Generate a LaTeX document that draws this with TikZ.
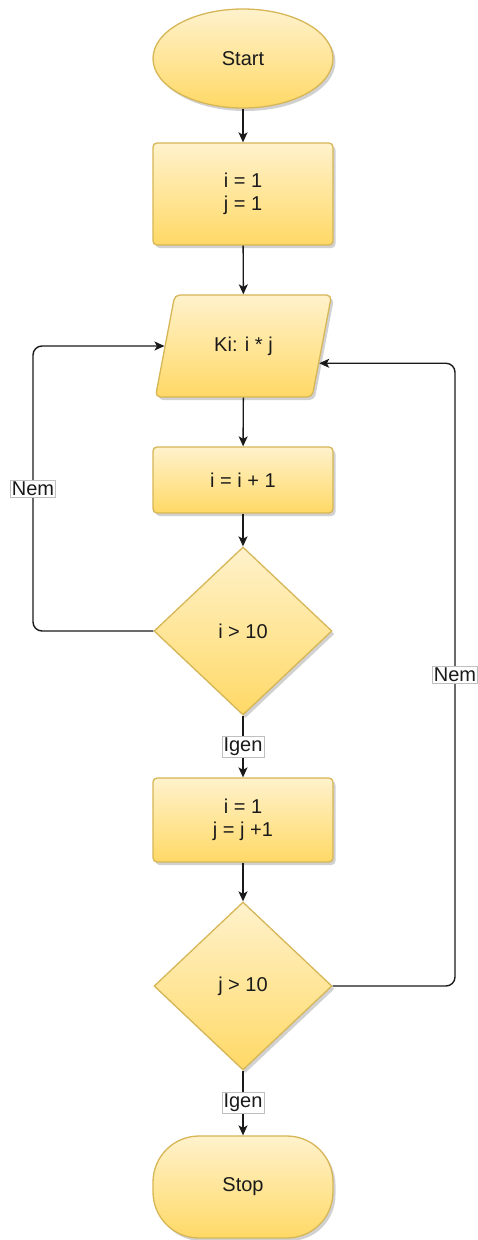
\documentclass[tikz,border=0pt]{standalone}
\usepackage{fontspec}
\setmainfont{Liberation Sans}
\usetikzlibrary{arrows.meta,positioning,calc,shapes.geometric,shadows}
\definecolor{lighty}{HTML}{FFF2CC}
\definecolor{darky}{HTML}{FFD966}
\definecolor{edgey}{HTML}{D6B656}
\definecolor{ink}{HTML}{1A1A1A}

\begin{document}
\begin{tikzpicture}[x=1pt,y=-1pt,>={Stealth[length=10pt,width=9pt,inset=2.5pt]},
  every node/.style={font=\fontsize{20}{23}\selectfont,align=center,text=ink},
  blk/.style={draw=edgey,line width=1.3pt,top color=lighty,bottom color=darky,minimum width=180pt,
    drop shadow={shadow xshift=2.5pt,shadow yshift=-3pt,fill=black!40,opacity=.45}},
  box/.style={blk,rectangle,rounded corners=4pt},
  io/.style={blk,trapezium,trapezium left angle=70,trapezium right angle=110,trapezium stretches=true,
    minimum width=177pt,minimum height=102pt,rounded corners=5pt},
  test/.style={blk,diamond,minimum width=178pt,minimum height=168pt,inner sep=0pt},
  flow/.style={->,draw=ink,line width=1.4pt,rounded corners=9pt},
  lbl/.style={draw=black!25,fill=white,sharp corners,inner sep=1.5pt,line width=.5pt}]
\useasboundingbox (0,0) rectangle (477,1240);
\node[blk,ellipse,minimum height=99pt] (start) at (243,58.5) {Start};
\node[box,minimum height=102pt] (init) at (243,194) {i = 1\\j = 1};
\node[io] (out) at (243.5,346) {Ki: i * j};
\node[box,minimum height=66pt] (inc) at (243,480) {i = i + 1};
\node[test] (cond1) at (243,631) {i > 10};
\node[box,minimum height=84pt] (reset) at (243,820) {i = 1\\j = j +1};
\node[test] (cond2) at (243,986) {j > 10};
\node[box,minimum height=102pt,rounded corners=46pt] (stop) at (243,1187) {Stop};
\coordinate (lturn) at (33,346);
\coordinate (rturn) at (455,0);
\coordinate (outin) at ($(out.bottom right corner)!.333!(out.top right corner)$);
\draw[flow] (start)--(init); \draw[flow] (init)--(out); \draw[flow] (out)--(inc); \draw[flow] (inc)--(cond1);
\draw[flow] (cond1)--node[lbl]{Igen}(reset); \draw[flow] (reset)--(cond2); \draw[flow] (cond2)--node[lbl]{Igen}(stop);
\draw[flow] (cond1.west) -| node[lbl,pos=.75]{Nem} (lturn) -- (out.west);
\draw[flow] (cond2.east) -| node[lbl,pos=.75]{Nem} (rturn |- outin) -- (outin);
\end{tikzpicture}
\end{document}
